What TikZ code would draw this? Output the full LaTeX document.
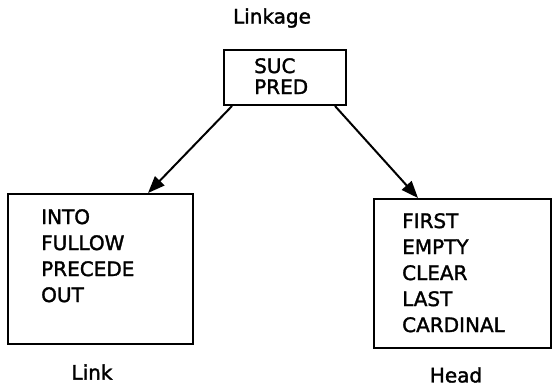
\documentclass[tikz,border=0pt]{standalone}
\usepackage{fontspec}
\setmainfont{DejaVu Sans}[BoldFont={DejaVu Sans}, BoldFeatures={FakeBold=1.6}]
\usetikzlibrary{arrows.meta}

\begin{document}
\begin{tikzpicture}[
    x=1pt, y=-1pt,
    box/.style={rectangle, draw, line width=2pt, inner sep=0pt, anchor=north west},
    words/.style={inner sep=0pt, anchor=north west, align=left, font=\fontsize{20}{26}\selectfont\bfseries},
    title/.style={inner sep=0pt, font=\fontsize{20}{24}\selectfont\bfseries},
    arrow/.style={-{Triangle[length=17pt, width=13pt]}, line width=2pt}
]
\useasboundingbox (0,0) rectangle (552,386);

% Linkage (top)
\node[title] (linkagename) at (272,18) {Linkage};
\node[box, minimum width=122pt, minimum height=55pt] (linkage) at (223,49) {};
\node[words, font=\fontsize{20}{21}\selectfont\bfseries] (linkagewords) at (254,58) {SUC\\PRED};

% Link (left)
\node[box, minimum width=185pt, minimum height=150pt] (link) at (7,193) {};
\node[words] (linkwords) at (41,209) {INTO\\FULLOW\\PRECEDE\\OUT};
\node[title] (linkname) at (92,372) {Link};

% Head (right)
\node[box, minimum width=177pt, minimum height=149pt] (head) at (373,198) {};
\node[words] (headwords) at (402,213) {FIRST\\EMPTY\\CLEAR\\LAST\\CARDINAL};
\node[title] (headname) at (456,375) {Head};

% Arrows
\draw[arrow] ([xshift=9pt]linkage.south west) -- ([xshift=141pt]link.north west);
\draw[arrow] ([xshift=-12pt]linkage.south east) -- ([xshift=45pt]head.north west);

\end{tikzpicture}
\end{document}
